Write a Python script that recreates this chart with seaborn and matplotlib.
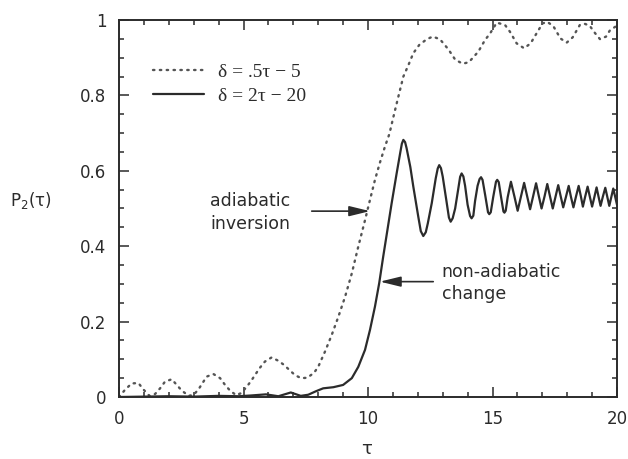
import numpy as np
import pandas as pd
import matplotlib
matplotlib.use("Agg")
import matplotlib.pyplot as plt
import seaborn as sns
from matplotlib.ticker import MultipleLocator

# ---- data ----
tau_slow = [0.0, 0.24, 0.51, 0.78, 0.98, 1.22, 1.45, 1.65, 1.85, 2.12, 2.32, 2.52, 2.8, 3.0,
            3.19, 3.52, 3.79, 4.06, 4.26, 4.46, 4.7, 4.9, 5.13, 5.33, 5.64, 5.86, 6.13, 6.4,
            6.63, 6.87, 7.07, 7.31, 7.56, 7.83, 8.0, 8.27, 8.54, 8.81, 9.08, 9.35, 9.61, 9.88,
            10.08, 10.28, 10.48, 10.68, 10.86, 11.02, 11.22, 11.42, 11.62, 11.82, 12.06, 12.36,
            12.6, 12.89, 13.23, 13.5, 13.8, 14.05, 14.43, 14.7, 14.9, 15.17, 15.5, 15.7, 15.97,
            16.27, 16.53, 16.81, 17.01, 17.2, 17.44, 17.73, 17.98, 18.22, 18.51, 18.7, 18.9,
            19.12, 19.32, 19.56, 19.72, 20.0]
p_slow = [0.0, 0.019, 0.036, 0.037, 0.02, 0.003, 0.008, 0.023, 0.041, 0.047, 0.032, 0.017, 0.003, 0.006,
          0.02, 0.054, 0.061, 0.05, 0.032, 0.017, 0.005, 0.01, 0.027, 0.045, 0.076, 0.094, 0.105, 0.096,
          0.085, 0.07, 0.058, 0.05, 0.051, 0.064, 0.08, 0.12, 0.164, 0.213, 0.266, 0.328, 0.399, 0.469,
          0.523, 0.576, 0.622, 0.664, 0.698, 0.743, 0.797, 0.85, 0.88, 0.912, 0.934, 0.949,
          0.956, 0.949, 0.922, 0.895, 0.884, 0.888, 0.916, 0.947, 0.964, 0.993, 0.987, 0.969, 0.938,
          0.925, 0.938, 0.969, 0.991, 0.995, 0.984, 0.951, 0.94, 0.954, 0.987, 0.99, 0.985,
          0.965, 0.949, 0.956, 0.973, 0.985]

tau_fast = [0.0, 1.0, 2.0, 3.0, 4.0, 4.8, 5.3, 5.9, 6.4, 6.9, 7.3, 7.6, 7.9, 8.2, 8.61, 9.0, 9.35,
            9.61, 9.88, 10.08, 10.28, 10.45, 10.61, 10.78, 10.95, 11.15, 11.3, 11.36, 11.42, 11.49,
            11.55, 11.7, 11.82, 12.02, 12.12, 12.22, 12.32, 12.4, 12.56, 12.72, 12.8, 12.86, 12.93,
            13.0, 13.15, 13.25, 13.32, 13.4, 13.5, 13.62, 13.7, 13.76, 13.83, 13.9, 14.0, 14.1,
            14.16, 14.23, 14.3, 14.4, 14.48, 14.54, 14.6, 14.71, 14.82, 14.87, 14.93, 15.03,
            15.14, 15.19, 15.25, 15.34, 15.44, 15.48, 15.53, 15.61, 15.74, 15.88, 16.01, 16.14,
            16.27, 16.39, 16.51, 16.63, 16.75, 16.86, 16.97, 17.09, 17.2, 17.31, 17.42, 17.53,
            17.64, 17.74, 17.84, 17.95, 18.06, 18.15, 18.25, 18.35, 18.46, 18.55, 18.63, 18.72,
            18.82, 18.91, 19.0, 19.09, 19.18, 19.26, 19.34, 19.43, 19.53, 19.61, 19.69, 19.77,
            19.85, 19.93, 20.0]
p_fast = [0.0, 0.001, 0.002, 0.001, 0.003, 0.002, 0.004, 0.007, 0.002, 0.012, 0.003, 0.006, 0.015, 0.023,
          0.026, 0.032, 0.05, 0.08, 0.125, 0.178, 0.24, 0.302, 0.372, 0.443, 0.514, 0.593, 0.65, 0.672,
          0.682, 0.676, 0.66, 0.61, 0.558, 0.478, 0.44, 0.427, 0.437, 0.46, 0.514, 0.58, 0.606, 0.615,
          0.607, 0.585, 0.52, 0.476, 0.465, 0.474, 0.5, 0.55, 0.584, 0.593, 0.585, 0.56, 0.51, 0.48,
          0.474, 0.481, 0.52, 0.56, 0.578, 0.583, 0.576, 0.534, 0.49, 0.485, 0.49, 0.531,
          0.571, 0.576, 0.57, 0.532, 0.492, 0.489, 0.494, 0.53, 0.571, 0.532, 0.494, 0.531,
          0.568, 0.533, 0.498, 0.532, 0.567, 0.533, 0.5, 0.532, 0.565, 0.532, 0.5, 0.531,
          0.562, 0.532, 0.503, 0.531, 0.56, 0.531, 0.503, 0.531, 0.56, 0.532, 0.505, 0.531,
          0.558, 0.531, 0.505, 0.53, 0.556, 0.531, 0.507, 0.531, 0.555, 0.531, 0.507, 0.53,
          0.553, 0.53, 0.51]

label_slow = "δ = .5τ − 5"
label_fast = "δ = 2τ − 20"
x_ticks = [0, 5, 10, 15, 20]
y_ticks = [0, 0.2, 0.4, 0.6, 0.8, 1.0]
y_tick_labels = ["0", "0.2", "0.4", "0.6", "0.8", "1"]

# ---- style ----
sns.set_theme(style="ticks")
plt.rcParams["font.family"] = ["DejaVu Sans"]
ink = "#2b2b2b"

fig = plt.figure(figsize=(6.28, 4.59), dpi=100)
ax = fig.add_axes([119 / 628, 1 - 397 / 459, 498 / 628, 377 / 459])

df_slow = pd.DataFrame({"tau": tau_slow, "P": p_slow})
df_fast = pd.DataFrame({"tau": tau_fast, "P": p_fast})

sns.lineplot(data=df_slow, x="tau", y="P", ax=ax, color="#555555", lw=1.7,
             label=label_slow, linestyle=(0, (0.6, 2.3)),
             dash_capstyle="round", sort=False)
sns.lineplot(data=df_fast, x="tau", y="P", ax=ax, color=ink, lw=1.6,
             label=label_fast, sort=False)

ax.set_xlim(0, 20)
ax.set_ylim(0, 1)
ax.set_xticks(x_ticks)
ax.set_yticks(y_ticks)
ax.set_yticklabels(y_tick_labels)
ax.xaxis.set_minor_locator(MultipleLocator(1))
ax.yaxis.set_minor_locator(MultipleLocator(0.05))
ax.tick_params(which="both", direction="in", top=True, right=True, color=ink,
               width=1.1)
ax.tick_params(which="major", length=7, pad=9, labelsize=12, labelcolor=ink)
ax.tick_params(which="minor", length=3.5)
for s in ax.spines.values():
    s.set_color(ink)
    s.set_linewidth(1.4)
ax.set_xlabel("")
ax.set_ylabel("")

leg = ax.legend(loc="upper left", bbox_to_anchor=(0.053, 0.905), frameon=False,
                prop={"family": "Liberation Serif", "size": 14},
                handlelength=2.6, handletextpad=0.75, labelspacing=0.3,
                borderaxespad=0)
for t in leg.get_texts():
    t.set_color(ink)

# annotations
arrow = dict(arrowstyle="-|>,head_length=0.9,head_width=0.22", color=ink, lw=1.2,
             mutation_scale=14, shrinkA=0, shrinkB=0)
ax.annotate("", xy=(10.08, 0.493), xytext=(7.74, 0.493), arrowprops=arrow)
ax.text(3.65, 0.49, "adiabatic\ninversion", ha="left", va="center", fontsize=12.5,
        color=ink, linespacing=1.35)
ax.annotate("", xy=(10.48, 0.306), xytext=(12.62, 0.306), arrowprops=arrow)
ax.text(12.96, 0.302, "non-adiabatic\nchange", ha="left", va="center", fontsize=12.5,
        color=ink, linespacing=1.3)

fig.text(31 / 628, 1 - 200 / 459, r"P$_{\mathregular{2}}$(τ)", ha="center", va="center",
         fontsize=12, color=ink)
fig.text(367 / 628, 1 - 449 / 459, "τ", ha="center", va="center", fontsize=13, color=ink)

fig.savefig("out.png", dpi=100, facecolor="white")
